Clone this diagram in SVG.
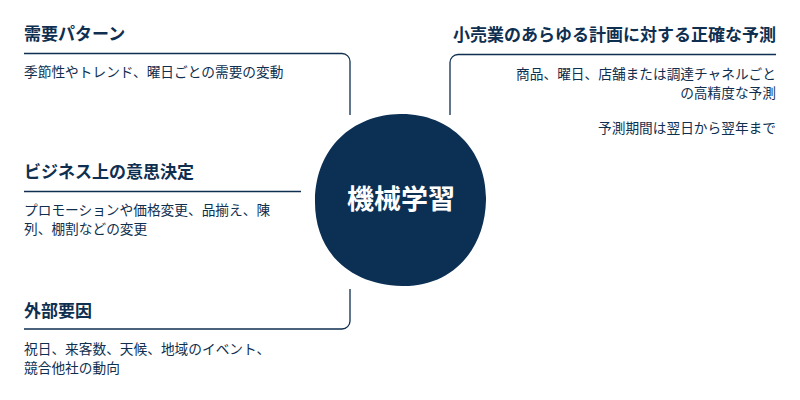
<svg xmlns="http://www.w3.org/2000/svg" width="800" height="400" viewBox="0 0 800 400">
<style>
text{font-family:"Noto Sans CJK JP","Noto Sans",sans-serif;fill:#0f2f50}
.h{font-size:17px;font-weight:bold}
.b{font-size:13.7px}
.r{text-anchor:end}
.ln{fill:none;stroke:#0f2f50;stroke-width:1.3}
</style>
<rect width="800" height="400" fill="#fff"/>
<g id="connectors">
<path class="ln" d="M24 53.5H342a8 8 0 0 1 8 8V115"/>
<path class="ln" d="M24 191.5H301"/>
<path class="ln" d="M350 289V321a8 8 0 0 1 -8 8H24"/>
<path class="ln" d="M776 54.5H458a8 8 0 0 0 -8 8V115"/>
</g>
<g id="center">
<path d="M400 114C450 113 487 150 486 200C485 250 452 287 402 286C350 285 314 252 315 200C316 148 352 115 400 114Z" fill="#0c3054"/>
<text x="401" y="209" text-anchor="middle" style="font-size:27px;font-weight:bold;fill:#fff">機械学習</text>
</g>
<g id="demand">
<text class="h" x="24" y="40">需要パターン</text>
<text class="b" x="24" y="77">季節性やトレンド、曜日ごとの需要の変動</text>
</g>
<g id="business">
<text class="h" x="24" y="178">ビジネス上の意思決定</text>
<text class="b" x="24" y="215">プロモーションや価格変更、品揃え、陳</text>
<text class="b" x="24" y="234">列、棚割などの変更</text>
</g>
<g id="external">
<text class="h" x="24" y="317">外部要因</text>
<text class="b" x="24" y="354">祝日、来客数、天候、地域のイベント、</text>
<text class="b" x="24" y="373">競合他社の動向</text>
</g>
<g id="forecast">
<text class="h r" x="776" y="41">小売業のあらゆる計画に対する正確な予測</text>
<text class="b r" x="776" y="79">商品、曜日、店舗または調達チャネルごと</text>
<text class="b r" x="776" y="98">の高精度な予測</text>
<text class="b r" x="776" y="133">予測期間は翌日から翌年まで</text>
</g>
</svg>
